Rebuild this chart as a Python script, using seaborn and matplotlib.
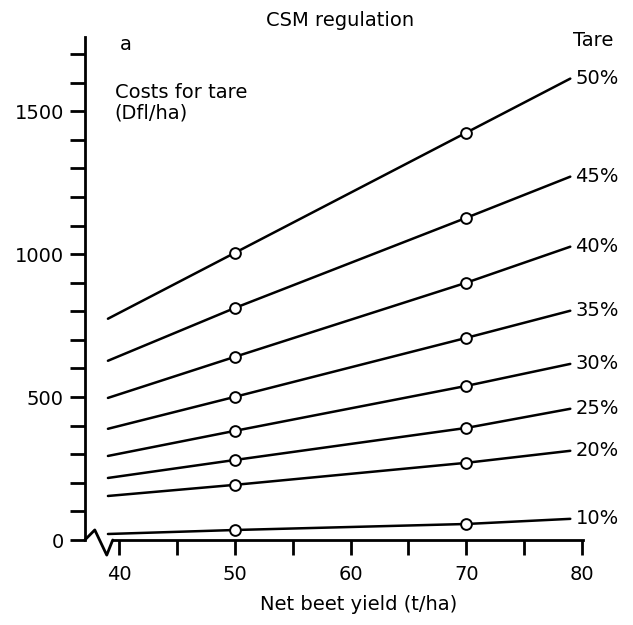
import pandas as pd
import matplotlib.pyplot as plt
import seaborn as sns

# net beet yield (t/ha) at the line ends and at the two marked points
yield_x = [39, 50, 70, 79]

tare_labels = ["50%", "45%", "40%", "35%", "30%", "25%", "20%", "10%"]
cost_50 = [774, 1005, 1425, 1614]
cost_45 = [627, 812, 1127, 1271]
cost_40 = [497, 641, 900, 1026]
cost_35 = [389, 501, 707, 802]
cost_30 = [294, 382, 539, 616]
cost_25 = [217, 280, 392, 459]
cost_20 = [154, 193, 270, 312]
cost_10 = [21, 35, 56, 74]
costs = [cost_50, cost_45, cost_40, cost_35, cost_30, cost_25, cost_20, cost_10]

sns.set_style("ticks")
plt.rcParams["font.family"] = ["DejaVu Sans"]
plt.rcParams["text.color"] = "black"
plt.rcParams["axes.labelcolor"] = "black"
fs = 14

fig = plt.figure(figsize=(6.33, 6.25), dpi=100)
ax = fig.add_axes([0.134, 0.136, 0.787, 0.805])

for lab, c in zip(tare_labels, costs):
    sns.lineplot(x=yield_x, y=c, color="black", linewidth=1.8, ax=ax)
    # circles only at 50 and 70 t/ha
    sns.scatterplot(x=yield_x[1:3], y=c[1:3], s=60, color="white",
                    edgecolor="black", linewidth=1.4, zorder=3, ax=ax)
    ax.text(yield_x[-1] + 0.45, c[-1], lab, fontsize=fs, va="center", ha="left")

ax.set_xlim(37, 80.1)
ax.set_ylim(0, 1760)
ax.set_xticks([40, 45, 50, 55, 60, 65, 70, 75, 80])
ax.set_xticklabels(["40", "", "50", "", "60", "", "70", "", "80"])
ax.set_yticks([0, 500, 1000, 1500])
ax.set_yticks(range(100, 1800, 100), minor=True)
ax.tick_params(axis="both", which="both", length=11, width=2, direction="out",
               labelsize=fs, colors="black")
ax.tick_params(axis="y", which="minor", length=11, width=2)
ax.tick_params(axis="x", pad=7)
ax.tick_params(axis="y", pad=4)

for side in ["top", "right"]:
    ax.spines[side].set_visible(False)
for side in ["left", "bottom"]:
    ax.spines[side].set_linewidth(2)
    ax.spines[side].set_color("black")
ax.spines["bottom"].set_bounds(39.4, 80.1)

# axis break squiggle
ax.plot([0.0, 0.02, 0.044, 0.056], [0.0, 0.02, -0.03, 0.0],
        transform=ax.transAxes, color="black", lw=2, clip_on=False)

ax.set_xlabel("Net beet yield (t/ha)", fontsize=fs, color="black")
ax.xaxis.set_label_coords(0.55, -0.11)
ax.set_ylabel("")

ax.text(0.07, 0.985, "a", transform=ax.transAxes, fontsize=fs, va="center")
ax.text(0.06, 0.87, "Costs for tare\n(Dfl/ha)", transform=ax.transAxes,
        fontsize=fs, va="center", linespacing=1.1)
fig.text(0.537, 0.968, "CSM regulation", fontsize=fs, ha="center", va="center")
fig.text(0.937, 0.936, "Tare", fontsize=fs, ha="center", va="center")

fig.savefig("out.png", dpi=100)
